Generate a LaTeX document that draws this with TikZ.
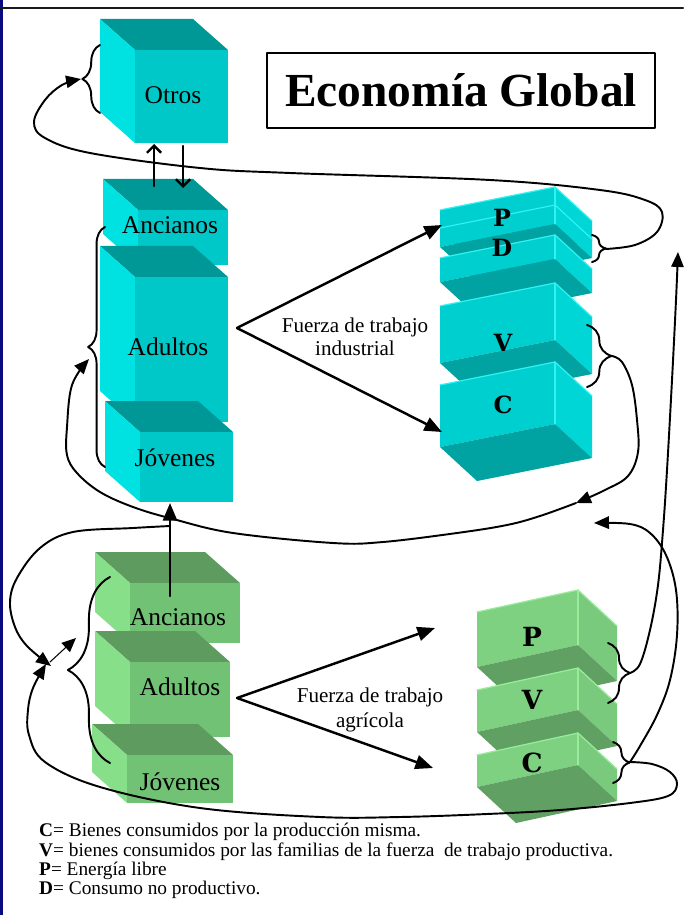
\documentclass[tikz,border=0pt]{standalone}
\usepackage{fontspec}
\setmainfont{Liberation Serif}
\newfontfamily\letrabloque{DejaVu Serif}
\usepackage{tikz}
\usetikzlibrary{arrows.meta}
\usetikzlibrary{decorations.pathreplacing}

\definecolor{marino}{HTML}{0A0A80}
\definecolor{cifrente}{HTML}{00C8C8}
\definecolor{cilado}{HTML}{00E1E1}
\definecolor{citapa}{HTML}{009797}
\definecolor{clfrente}{HTML}{00CFCF}
\definecolor{cllado}{HTML}{00D6D6}
\definecolor{clbase}{HTML}{00A2A2}
\definecolor{clborde}{HTML}{30F2F2}
\definecolor{agfrente}{HTML}{72C276}
\definecolor{aglado}{HTML}{88DF8A}
\definecolor{agtapa}{HTML}{5E9B5F}
\definecolor{alfrente}{HTML}{7DD181}
\definecolor{allado}{HTML}{7ACA7D}
\definecolor{albase}{HTML}{60A063}
\definecolor{alborde}{HTML}{98EC9A}

\tikzset{
  ci frente/.style={fill=cifrente}, ci lado/.style={fill=cilado}, ci tapa/.style={fill=citapa},
  ag frente/.style={fill=agfrente}, ag lado/.style={fill=aglado}, ag tapa/.style={fill=agtapa},
  cl frente/.style={fill=clfrente}, cl lado/.style={fill=cllado}, cl base/.style={fill=clbase},
  cl borde/.style={draw=clborde,line width=0.7pt},
  al frente/.style={fill=alfrente}, al lado/.style={fill=allado}, al base/.style={fill=albase},
  al borde/.style={draw=alborde,line width=0.7pt},
  etiqueta/.style={font=\fontsize{14.5}{17}\selectfont},
  letraci/.style={font=\letrabloque\bfseries\fontsize{13.5}{15}\selectfont},
  letraag/.style={font=\letrabloque\bfseries\fontsize{15}{17}\selectfont},
  leyenda/.style={anchor=west,font=\fontsize{11}{13}\selectfont},
  llave/.style={decorate,decoration={brace,amplitude=#1},line width=1.1pt},
  flecha/.style={line width=1.4pt,-{Triangle[length=10pt,width=8pt]}},
  flechita/.style={line width=1.4pt,-{Straight Barb[length=4pt,width=8pt]}},
  curva/.style={line width=1.1pt},
  curvaf/.style={line width=1.1pt,-{Triangle[length=8.5pt,width=7pt]}}
}

% cubo: x0 y0 x1 y1 (cara frontal) y prefijo de color
\newcommand{\cubo}[5]{%
  \fill [#5 tapa] (#1,#2)-- (#3,#2)-- (#3-35,#2-31)-- (#1-35,#2-31)-- cycle;
  \fill [#5 lado] (#1,#2)-- (#1-35,#2-31)-- (#1-35,#4-31)-- (#1,#4)-- cycle;
  \fill [#5 frente] (#1,#2) rectangle (#3,#4);
}
% losa: x0 y0 alto y prefijo de color
\newcommand{\losa}[4]{%
  \fill [#4 frente] (#1,#2)-- (#1+\lux,#2-\luy)-- (#1+\lux,#2-\luy+#3)-- (#1,#2+#3)-- cycle;
  \fill [#4 lado] (#1+\lux,#2-\luy)-- (#1+\lux+\ldx,#2-\luy+\ldy)-- (#1+\lux+\ldx,#2-\luy+\ldy+#3)-- (#1+\lux,#2-\luy+#3)-- cycle;
  \fill [#4 base] (#1,#2+#3)-- (#1+\lux,#2-\luy+#3)-- (#1+\lux+\ldx,#2-\luy+\ldy+#3)-- (#1+\ldx,#2+\ldy+#3)-- cycle;
  \draw [#4 borde] (#1,#2)-- (#1+\lux,#2-\luy)-- (#1+\lux+\ldx,#2-\luy+\ldy);
  \draw [#4 borde] (#1+\lux,#2-\luy)-- (#1+\lux,#2-\luy+#3);
}

\begin{document}
\begin{tikzpicture}[line cap=round,line join=round,x=0.02cm,y=-0.02cm]
\useasboundingbox (0,0) rectangle (683,915);
\fill [white] (0,0) rectangle (683,915);
\fill [marino] (0,0) rectangle (3,915);
\draw [line width=1.2pt,color=black!90] (0,8)-- (683,8);
\node (titulo) [draw,line width=1.2pt,minimum width=7.76cm,minimum height=1.5cm] at (461,90.5) {\fontsize{27}{30}\selectfont\bfseries Econom\'ia Global};
% economia industrial
\cubo{135}{50}{228}{143}{ci}
\node (otros) [etiqueta] at (173,95) {Otros};
\cubo{138}{210}{228}{265}{ci}
\node (ancI) [etiqueta] at (170,225) {Ancianos};
\cubo{135}{277}{228}{422}{ci}
\node (adulI) [etiqueta] at (168,347) {Adultos};
\cubo{140}{432}{233}{502}{ci}
\node (jovI) [etiqueta] at (175,458) {J\'ovenes};
\def\lux{115}\def\luy{23}\def\ldx{37}\def\ldy{34}
\losa{440}{210}{20}{cl}
\losa{440}{228}{19}{cl}
\losa{440}{258}{24}{cl}
\losa{440}{306}{57}{cl}
\losa{440}{385}{62}{cl}
\node (pI) [letraci] at (502,218) {P};
\node (dI) [letraci] at (502,248) {D};
\node (vI) [letraci] at (503,343) {V};
\node (cI) [letraci] at (503,405) {C};
% economia agricola
\cubo{130}{583}{240}{643}{ag}
\node (ancA) [etiqueta] at (178,617) {Ancianos};
\cubo{130}{662}{230}{737}{ag}
\node (adulA) [etiqueta] at (180,687) {Adultos};
\cubo{127}{755}{233}{803}{ag}
\node (jovA) [etiqueta] at (180,782) {J\'ovenes};
\def\lux{101}\def\luy{22}\def\ldx{39}\def\ldy{36}
\losa{477}{612}{55}{al}
\losa{477}{690}{42}{al}
\losa{477}{755}{32}{al}
\node (pA) [letraag] at (532,637) {P};
\node (vA) [letraag] at (532,700) {V};
\node (cA) [letraag] at (532,763) {C};
% llaves
\draw [llave=10pt] (100,113)-- (100,45);
\draw [llave=9.6pt] (105,467)-- (105,227);
\draw [llave=24pt] (110,763)-- (110,577);
\draw [llave=8pt] (592,235)-- (592,262);
\draw [llave=14pt] (587,325)-- (587,387);
\draw [llave=12.5pt] (608,643)-- (608,703);
\draw [llave=9.5pt] (613,742)-- (613,783);
\coordinate (bOtros) at (81,79);
\coordinate (bPD) at (606,249);
\coordinate (bV) at (612,356);
\coordinate (bPVa) at (630,673);
\coordinate (bCa) at (630,762);
% fuerza de trabajo
\coordinate (vertI) at (237,328);
\coordinate (entPI) at (442,225);
\coordinate (entCI) at (442,432);
\draw [flecha] (vertI)-- (entPI);
\draw [flecha] (vertI)-- (entCI);
\node (fti) [align=center,font=\fontsize{12}{13}\selectfont] at (355,337) {Fuerza de trabajo\\industrial};
\coordinate (vertA) at (237,698);
\coordinate (entPA) at (435,628);
\coordinate (entCA) at (433,768);
\draw [flecha] (vertA)-- (entPA);
\draw [flecha] (vertA)-- (entCA);
\node (fta) [align=center,font=\fontsize{12}{14}\selectfont] at (370,710) {Fuerza de trabajo\\agr\'icola};
% otros y ancianos
\coordinate (ancS) at (154,186);
\coordinate (otrS) at (154,144);
\coordinate (otrB) at (183,146);
\coordinate (ancB) at (183,188);
\draw [flechita] (ancS)-- (otrS);
\draw [flechita] (otrB)-- (ancB);
\coordinate (ancAn) at (170,596);
\coordinate (jovIs) at (170,503);
\draw [flecha] (ancAn)-- (jovIs);
% ciclos
\coordinate (fV) at (576,503);
\coordinate (fInd) at (89,359);
\coordinate (fPD) at (678,252);
\coordinate (fAgr) at (594,523);
\coordinate (ramal) at (170,526);
\coordinate (fAlto) at (51,666);
\coordinate (fBajo) at (46,664);
\coordinate (cruce) at (50,662);
\coordinate (pAgr) at (76,638);
\draw [curvaf] plot [smooth,tension=0.6] coordinates {(bPD) (635,245) (657,232) (662,212) (645,200) (600,190) (490,180) (290,173) (200,168) (90,153) (45,138) (34,122) (45,100) (62,85) (bOtros)};
\draw [curvaf] plot [smooth,tension=0.6] coordinates {(bV) (622,362) (632,385) (637,420) (638,452) (628,476) (605,490) (fV)};
\draw [curvaf] plot [smooth,tension=0.6] coordinates {(fV) (540,516) (507,525) (457,533) (383,542) (333,543) (233,533) (173,519) (133,507) (100,492) (77,473) (67,455) (67,427) (72,385) (fInd)};
\draw [curvaf] plot [smooth,tension=0.6] coordinates {(bPVa) (640,664) (650,630) (658,585) (663,530) (667,470) (672,380) (676,300) (fPD)};
\draw [curvaf] plot [smooth,tension=0.6] coordinates {(bCa) (640,746) (657,715) (670,680) (677,635) (676,590) (666,555) (650,533) (630,524) (fAgr)};
\draw [curvaf] plot [smooth,tension=0.6] coordinates {(bCa) (652,764) (670,772) (677,784) (668,796) (630,803) (560,810) (487,814) (400,817) (320,817) (200,808) (100,787) (45,762) (29,735) (28,710) (33,688) (fBajo)};
\draw [curvaf] plot [smooth,tension=0.6] coordinates {(ramal) (133,528) (73,532) (40,548) (17,578) (10,602) (15,627) (27,646) (fAlto)};
\draw [line width=0.6pt,-{Triangle[length=8pt,width=7pt]}] (cruce)-- (pAgr);
% leyenda
\node (leyC) [leyenda] at (33,832) {\textbf{C}= Bienes consumidos por la producci\'on misma.};
\node (leyV) [leyenda] at (33,852) {\textbf{V}= bienes consumidos por las familias de la fuerza \ de trabajo productiva.};
\node (leyP) [leyenda] at (33,871) {\textbf{P}= Energ\'ia libre};
\node (leyD) [leyenda] at (33,890) {\textbf{D}= Consumo no productivo.};
\end{tikzpicture}
\end{document}
